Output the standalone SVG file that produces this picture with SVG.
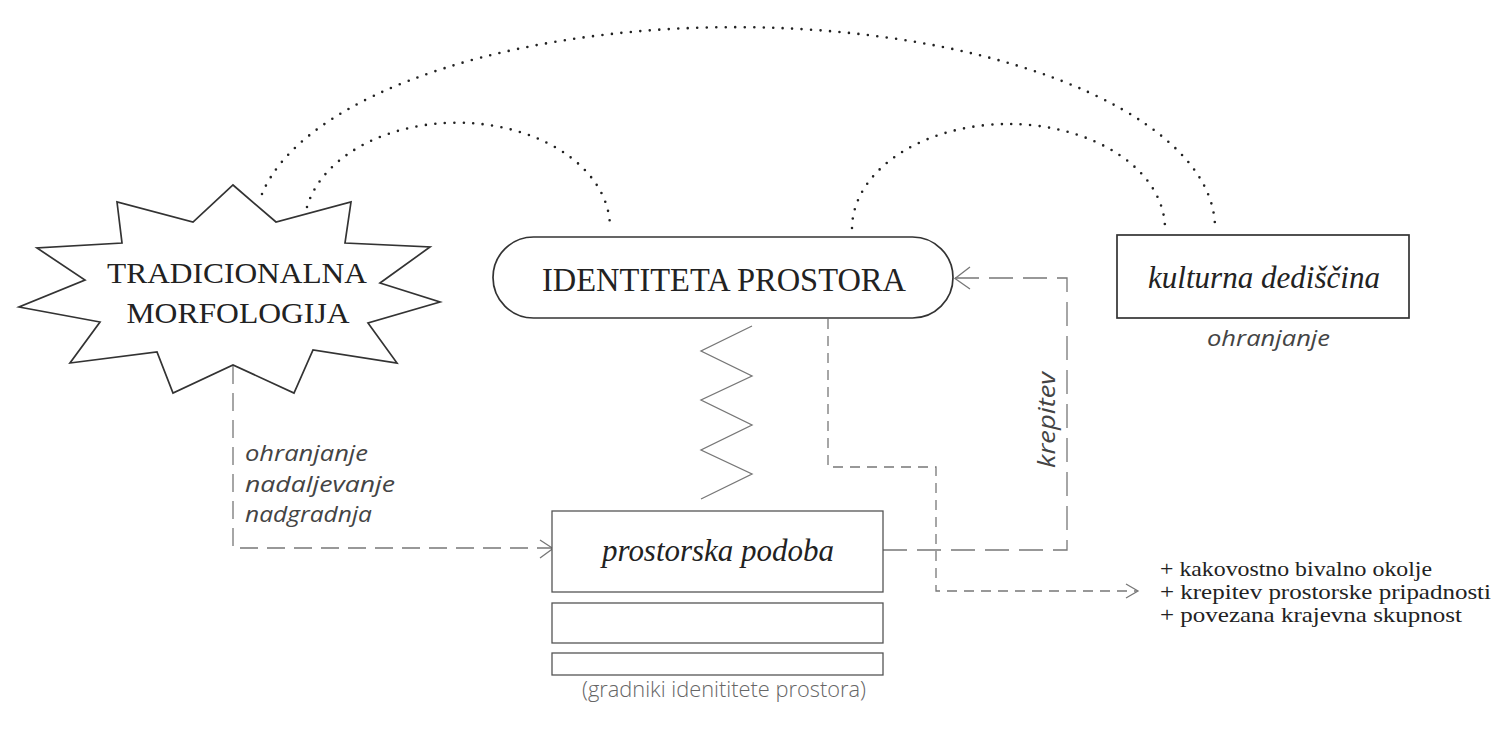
<svg xmlns="http://www.w3.org/2000/svg" width="1493" height="742" viewBox="0 0 1493 742">
<style>
.shape{fill:#fff;stroke:#333;stroke-width:1.7}
.box{fill:#fff;stroke:#555;stroke-width:1.3}
.dots{fill:none;stroke:#222;stroke-width:2.6;stroke-dasharray:0 9.5;stroke-linecap:round}
.dash{fill:none;stroke:#777;stroke-width:1.3}
.head{fill:none;stroke:#777;stroke-width:1.3}
.serif{font-family:"Liberation Serif","DejaVu Serif",serif;fill:#222}
.iserif{font-family:"Liberation Serif","DejaVu Serif",serif;font-style:italic;fill:#222}
.isans{font-family:"Open Sans","Lato",sans-serif;font-style:italic;fill:#444}
.sans{font-family:"Open Sans","Lato",sans-serif;font-weight:300;fill:#666}
</style>
<rect width="1493" height="742" fill="#fff"/>
<g id="connectors">
<path class="dots" d="M 262 194 A 480 201 0 0 1 1215 230"/>
<path class="dots" d="M 307 207 A 153 105 0 0 1 610 228"/>
<path class="dots" d="M 852 228 A 156.5 105 0 0 1 1165 230"/>
<polyline class="dash" style="stroke-dasharray:18 9" points="233,366 233,548 552,548"/>
<polyline class="head" points="540,540 553,548.5 540,558"/>
<polyline class="dash" style="stroke-dasharray:10 7" points="828,319 828,467 936,467 936,591 1137,591"/>
<polyline class="head" points="1126,584 1138,591 1126,598"/>
<polyline class="dash" style="stroke-dasharray:24 10" points="883,550 1067,550 1067,278 955,278"/>
<polyline class="head" points="970,267 955,278.5 970,289"/>
<polyline fill="none" stroke="#777" stroke-width="1.3" points="752,326 701,351 752,376 701,400 752,425 701,450 752,474 701,499"/>
</g>
<g id="node-tradicionalna">
<polygon class="shape" points="233,185 276,222 351,202 345,243 430,247 380,283 440,302 368,323 397,363 313,350 294,393 233,365 173,393 157,352 70,363 100,322 19,307 85,280 37,248 122,243 117,202 193,222"/>
<text class="serif" x="237" y="283" font-size="30" text-anchor="middle" textLength="260" lengthAdjust="spacingAndGlyphs">TRADICIONALNA</text>
<text class="serif" x="238" y="323" font-size="30" text-anchor="middle" textLength="223" lengthAdjust="spacingAndGlyphs">MORFOLOGIJA</text>
</g>
<g id="node-identiteta">
<rect class="shape" x="493" y="237" width="460" height="81" rx="40.5"/>
<text class="serif" x="724" y="291" font-size="34" text-anchor="middle" textLength="364" lengthAdjust="spacingAndGlyphs">IDENTITETA PROSTORA</text>
</g>
<g id="node-kulturna">
<rect class="shape" x="1117" y="235" width="292" height="83"/>
<text class="iserif" x="1148" y="288" font-size="32" textLength="232" lengthAdjust="spacingAndGlyphs">kulturna dediščina</text>
<text class="isans" x="1207" y="346" font-size="22" textLength="123" lengthAdjust="spacingAndGlyphs">ohranjanje</text>
</g>
<g id="node-prostorska">
<rect class="box" x="552" y="511" width="331" height="81"/>
<text class="iserif" x="718" y="561" font-size="31" text-anchor="middle" textLength="232" lengthAdjust="spacingAndGlyphs">prostorska podoba</text>
<rect class="box" x="552" y="603" width="331" height="40"/>
<rect class="box" x="552" y="653" width="331" height="22"/>
<text class="sans" x="724" y="697" font-size="22" text-anchor="middle" textLength="284" lengthAdjust="spacingAndGlyphs">(gradniki idenititete prostora)</text>
</g>
<g id="labels">
<text class="isans" x="245" y="461" font-size="22" textLength="123" lengthAdjust="spacingAndGlyphs">ohranjanje</text>
<text class="isans" x="245" y="492" font-size="22" textLength="150" lengthAdjust="spacingAndGlyphs">nadaljevanje</text>
<text class="isans" x="245" y="522" font-size="22" textLength="127" lengthAdjust="spacingAndGlyphs">nadgradnja</text>
<text class="isans" font-size="23" transform="translate(1055,420) rotate(-90)" text-anchor="middle" textLength="96" lengthAdjust="spacingAndGlyphs">krepitev</text>
</g>
<g id="node-results">
<text class="serif" x="1160" y="576" font-size="21" textLength="272" lengthAdjust="spacingAndGlyphs">+ kakovostno bivalno okolje</text>
<text class="serif" x="1160" y="599" font-size="21" textLength="331" lengthAdjust="spacingAndGlyphs">+ krepitev prostorske pripadnosti</text>
<text class="serif" x="1160" y="622" font-size="21" textLength="302" lengthAdjust="spacingAndGlyphs">+ povezana krajevna skupnost</text>
</g>
</svg>
